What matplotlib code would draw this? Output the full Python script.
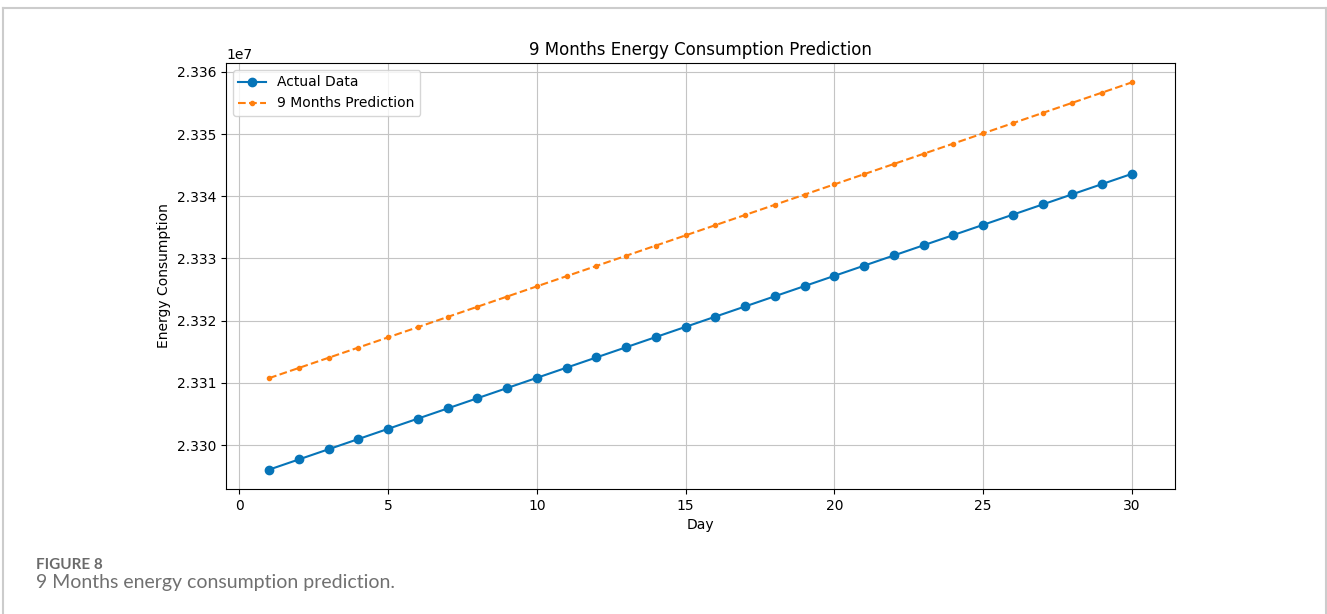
import matplotlib
matplotlib.use('agg')
import matplotlib.pyplot as plt
from matplotlib.lines import Line2D

days = list(range(1, 31))
actual = [23296050, 23297690, 23299330, 23300970, 23302610, 23304250,
          23305890, 23307530, 23309170, 23310810, 23312450, 23314090,
          23315730, 23317370, 23319010, 23320650, 23322290, 23323930,
          23325570, 23327210, 23328850, 23330490, 23332130, 23333770,
          23335410, 23337050, 23338690, 23340330, 23341970, 23343610]
prediction = [23310760, 23312400, 23314040, 23315680, 23317320, 23318960,
              23320600, 23322240, 23323880, 23325520, 23327160, 23328800,
              23330440, 23332080, 23333720, 23335360, 23337000, 23338640,
              23340280, 23341920, 23343560, 23345200, 23346840, 23348480,
              23350120, 23351760, 23353400, 23355040, 23356680, 23358320]

fig = plt.figure(figsize=(13.27, 6.14), dpi=100)
ax = fig.add_axes([0.1703, 0.2036, 0.7152, 0.6938])

ax.plot(days, actual, "-o", color="#0674b8", label="Actual Data")
ax.plot(days, prediction, "--.", color="#ff7f0e", label="9 Months Prediction")
ax.set_title("9 Months Energy Consumption Prediction")
ax.set_xlabel("Day")
ax.set_ylabel("Energy Consumption")
ax.grid(True, color="#c4c4c4")
ax.legend(loc="upper left")

# page frame and caption around the figure
border = "#cccccc"
fig.add_artist(Line2D([3/1327, 3/1327], [0, 1 - 8/614], color=border, lw=1.5))
fig.add_artist(Line2D([3/1327, 1326/1327], [1 - 8/614, 1 - 8/614], color=border, lw=1.5))
fig.add_artist(Line2D([1326/1327, 1326/1327], [0, 1 - 8/614], color=border, lw=1.5))
fig.text(36/1327, 1 - 569/614, "FIGURE 8", fontsize=11, color="#6a6a6a",
         family="Lato", weight="bold")
fig.text(36/1327, 1 - 588/614, "9 Months energy consumption prediction.",
         fontsize=14, color="#707070", family="Lato")

fig.savefig("out.png", dpi=100)
